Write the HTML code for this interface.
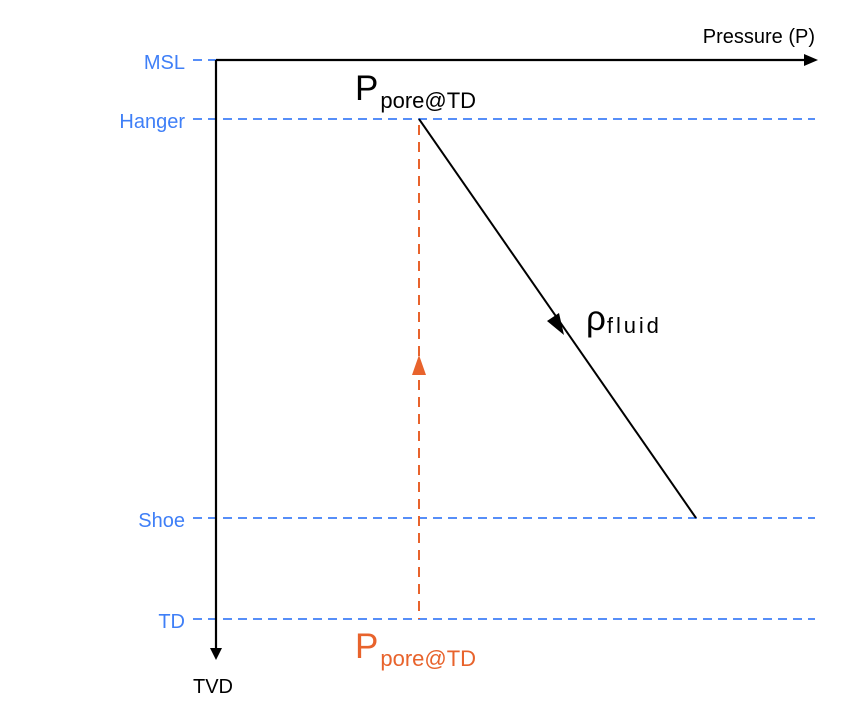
<!DOCTYPE html>
<html><head><style>body{margin:0;background:#fff}svg{display:block}text{font-family:"Liberation Sans",sans-serif}</style></head>
<body>
<svg width="862" height="720" viewBox="0 0 862 720">
<g stroke="#3f7ff7" stroke-width="1.8" stroke-dasharray="9,6" fill="none">
<line x1="193" y1="60" x2="216" y2="60"/>
<line x1="193" y1="119" x2="815" y2="119"/>
<line x1="193" y1="518" x2="815" y2="518"/>
<line x1="193" y1="619" x2="815" y2="619"/>
</g>
<g fill="#3f7ff7" font-size="20" text-anchor="end">
<text x="185" y="69">MSL</text>
<text x="185" y="128">Hanger</text>
<text x="185" y="527">Shoe</text>
<text x="185" y="628">TD</text>
</g>
<g stroke="#000" stroke-width="2.2" fill="none">
<line x1="216" y1="60" x2="806" y2="60"/>
<line x1="216" y1="60" x2="216" y2="650"/>
</g>
<polygon points="818,60 804,54 804,66" fill="#000"/>
<polygon points="216,660 210,648 222,648" fill="#000"/>
<text x="815" y="43" font-size="20" text-anchor="end">Pressure (P)</text>
<text x="193" y="693" font-size="20">TVD</text>
<line x1="419" y1="119" x2="696" y2="518" stroke="#000" stroke-width="2"/>
<polygon points="564,335 547,321 559,313" fill="#000"/>
<line x1="419" y1="125" x2="419" y2="619" stroke="#e8632c" stroke-width="2" stroke-dasharray="10,7"/>
<polygon points="419,355 412,375 426,375" fill="#e8632c"/>
<text x="355" y="100" font-size="35">P<tspan font-size="22" dy="8" dx="2">pore@TD</tspan></text>
<text x="355" y="658" font-size="35" fill="#e8632c">P<tspan font-size="22" dy="8" dx="2">pore@TD</tspan></text>
<text x="586" y="330" font-size="35">ρ<tspan font-size="22" dy="3" dx="1" textLength="52">fluid</tspan></text>
</svg>
</body></html>
